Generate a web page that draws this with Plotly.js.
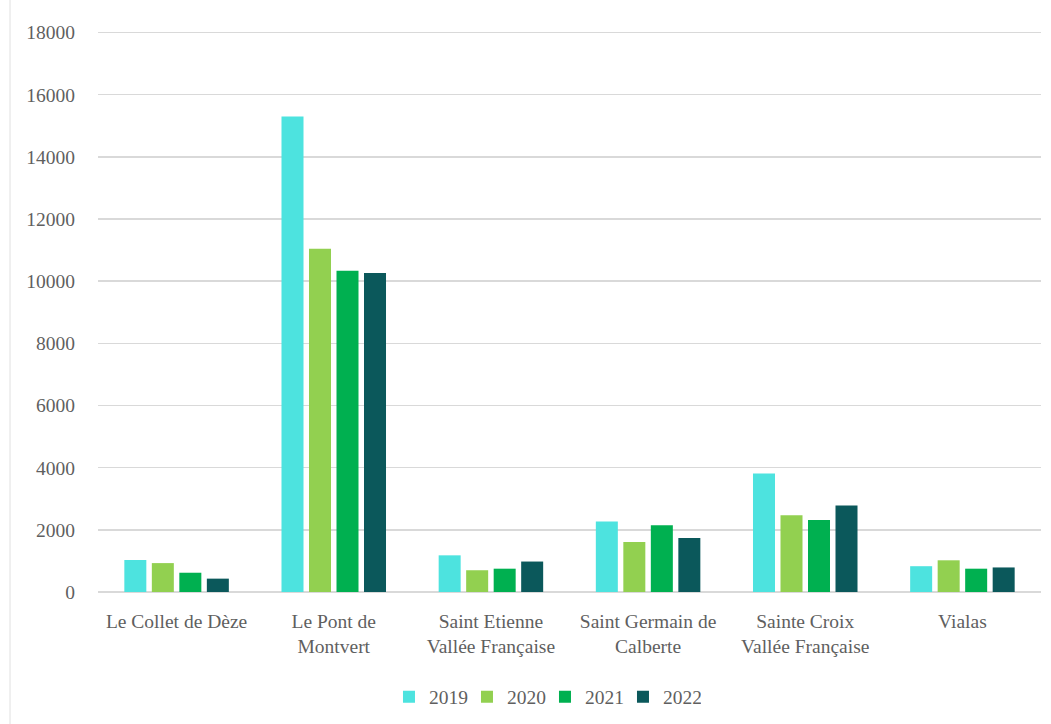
<!DOCTYPE html>
<html><head><meta charset="utf-8">
<script src="https://cdn.plot.ly/plotly-3.0.1.min.js"></script>
<style>html,body{margin:0;padding:0;background:#fff;}#chart{width:1051px;height:724px;}</style>
</head><body><div id="chart"></div>
<script>
const categories = ["Le Collet de Dèze", "Le Pont de<br>Montvert", "Saint Etienne<br>Vallée Française", "Saint Germain de<br>Calberte", "Sainte Croix<br>Vallée Française", "Vialas"];
const years = ["2019", "2020", "2021", "2022"];
const v2019 = [1030, 15300, 1180, 2270, 3810, 830];
const v2020 = [930, 11040, 700, 1610, 2470, 1020];
const v2021 = [620, 10340, 750, 2150, 2320, 750];
const v2022 = [430, 10260, 980, 1740, 2780, 790];
const colors = ["#4de3df", "#92d050", "#00b050", "#0b585b"];
const yTicks = [0, 2000, 4000, 6000, 8000, 10000, 12000, 14000, 16000, 18000];

const series = [v2019, v2020, v2021, v2022];
const traces = series.map((vals, i) => ({
  type: "bar", name: years[i], x: categories, y: vals,
  marker: {color: colors[i]}, hoverinfo: "x+y"
}));

const font = {family: "Liberation Serif", size: 19.5, color: "#5f5f5f"};
const layout = {
  width: 1051, height: 724,
  margin: {l: 98, r: 10, t: 31, b: 132, autoexpand: false},
  paper_bgcolor: "#ffffff", plot_bgcolor: "#ffffff",
  barmode: "group", bargap: 0.3, bargroupgap: 0.2,
  font: font,
  xaxis: {tickfont: font, showgrid: false, showline: false, ticks: "", ticklabelstandoff: 15, automargin: false},
  yaxis: {range: [0, 18050], tickvals: yTicks, ticktext: yTicks.map(String), tickfont: font, automargin: false,
          gridcolor: "#d9d9d9", gridwidth: 1.5, zeroline: true, zerolinecolor: "#d9d9d9", zerolinewidth: 1.5,
          showline: false, ticks: "", ticklabelstandoff: 22},
  legend: {orientation: "h", x: 0.474, xanchor: "center", y: -0.1875, yanchor: "middle",
           font: font, traceorder: "normal", itemwidth: 30, entrywidth: 33, entrywidthmode: "pixels"},
  shapes: [{type: "line", xref: "paper", yref: "paper", x0: -0.0933, x1: -0.0933, y0: -0.236, y1: 1.057,
            line: {color: "#e0e0e0", width: 1}}],
  showlegend: true
};
Plotly.newPlot("chart", traces, layout, {displayModeBar: false, staticPlot: true});
</script></body></html>
